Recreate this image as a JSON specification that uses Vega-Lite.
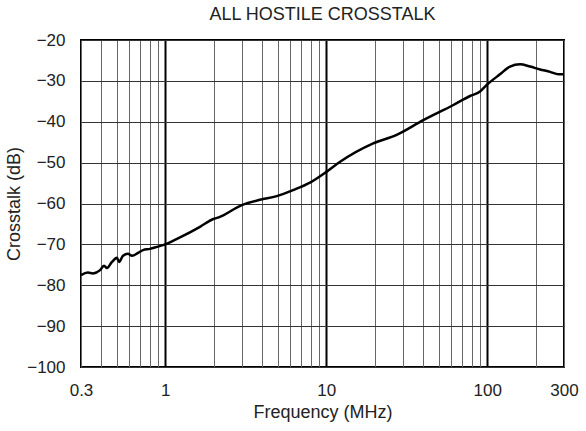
{
  "$schema": "https://vega.github.io/schema/vega-lite/v6.json",
  "width": 483,
  "height": 327,
  "autosize": {"type": "none"},
  "padding": {"left": 81, "top": 40, "right": 22, "bottom": 64},
  "background": "white",
  "title": {"text": "ALL HOSTILE CROSSTALK", "fontSize": 18, "fontWeight": "normal", "font": "Liberation Sans", "color": "#222", "offset": 7, "anchor": "middle"},
  "config": {
    "view": {"stroke": "black", "strokeWidth": 2},
    "axis": {"domain": false, "ticks": false, "labelFont": "Liberation Sans", "titleFont": "Liberation Sans", "labelFontSize": 17, "titleFontSize": 18, "titleFontWeight": "normal", "labelColor": "#222", "titleColor": "#222", "gridOpacity": 1}
  },
  "data": {"values": [
    {"f": 0.3, "db": -77.5},
    {"f": 0.331, "db": -76.9},
    {"f": 0.356, "db": -77.1},
    {"f": 0.394, "db": -76.3},
    {"f": 0.417, "db": -75.2},
    {"f": 0.435, "db": -75.8},
    {"f": 0.467, "db": -74.3},
    {"f": 0.502, "db": -73.3},
    {"f": 0.517, "db": -74.3},
    {"f": 0.547, "db": -72.8},
    {"f": 0.587, "db": -72.3},
    {"f": 0.622, "db": -72.8},
    {"f": 0.678, "db": -72.1},
    {"f": 0.728, "db": -71.4},
    {"f": 0.805, "db": -71.1},
    {"f": 0.89, "db": -70.6},
    {"f": 1.0, "db": -70.0},
    {"f": 1.15, "db": -68.9},
    {"f": 1.236, "db": -68.3},
    {"f": 1.645, "db": -65.7},
    {"f": 1.99, "db": -63.8},
    {"f": 2.15, "db": -63.4},
    {"f": 2.99, "db": -60.4},
    {"f": 3.88, "db": -59.1},
    {"f": 4.93, "db": -58.2},
    {"f": 6.25, "db": -56.7},
    {"f": 7.93, "db": -54.9},
    {"f": 10.08, "db": -52.2},
    {"f": 12.2, "db": -49.8},
    {"f": 19.6, "db": -45.3},
    {"f": 27.4, "db": -43.2},
    {"f": 40.1, "db": -39.6},
    {"f": 61.6, "db": -35.9},
    {"f": 78.2, "db": -33.7},
    {"f": 90.3, "db": -32.6},
    {"f": 99.3, "db": -31.0},
    {"f": 120, "db": -28.4},
    {"f": 138.6, "db": -26.5},
    {"f": 160, "db": -25.95},
    {"f": 184.6, "db": -26.5},
    {"f": 213, "db": -27.2},
    {"f": 246, "db": -27.8},
    {"f": 277, "db": -28.4},
    {"f": 300, "db": -28.4}
  ]},
  "mark": {"type": "line", "color": "black", "strokeWidth": 2.5, "interpolate": "monotone"},
  "encoding": {
    "x": {"field": "f", "type": "quantitative",
      "scale": {"type": "log", "domain": [0.3, 300], "nice": false},
      "axis": {"title": "Frequency (MHz)",
        "values": [0.3,0.4,0.5,0.6,0.7,0.8,0.9,1,2,3,4,5,6,7,8,9,10,20,30,40,50,60,70,80,90,100,200,300],
        "format": "~g",
        "labelExpr": "indexof([0.3,1,10,100,300], datum.value) >= 0 ? datum.label : ''",
        "labelPadding": 15, "titlePadding": 5,
        "grid": true,
        "gridColor": {"condition": {"test": "indexof([1,10,100], datum.value) >= 0", "value": "black"}, "value": "#666"},
        "gridWidth": {"condition": {"test": "indexof([1,10,100], datum.value) >= 0", "value": 2}, "value": 1},
        "labelFlush": false, "labelOverlap": false}
    },
    "y": {"field": "db", "type": "quantitative",
      "scale": {"domain": [-100, -20], "nice": false},
      "axis": {"title": "Crosstalk (dB)", "values": [-100,-90,-80,-70,-60,-50,-40,-30,-20],
        "labelPadding": 16, "titlePadding": 3, "grid": true, "gridColor": "#333", "gridWidth": 1}
    }
  }
}
